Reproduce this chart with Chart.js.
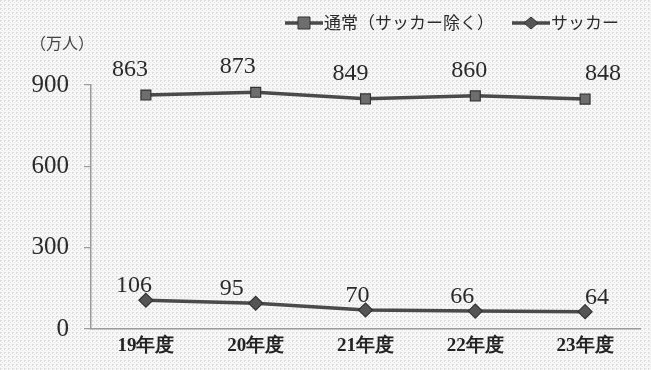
<!DOCTYPE html>
<html><head><meta charset="utf-8">
<script src="https://cdn.jsdelivr.net/npm/chart.js@4"></script>
<style>html,body{margin:0;padding:0;background:#f2f2f2;}#wrap{width:651px;height:370px;}</style>
</head><body><div id="wrap"><canvas id="c" width="651" height="370"></canvas></div>
<script>
const categories = ['19年度','20年度','21年度','22年度','23年度'];
const regular = [863, 873, 849, 860, 848];
const soccer = [106, 95, 70, 66, 64];
const yTicks = [0, 300, 600, 900];
const seriesNames = ['通常（サッカー除く）','サッカー'];
const unitLabel = '（万人）';

const serif = '"Liberation Serif","DejaVu Serif",serif';
const jp = '"Noto Sans CJK JP","Noto Sans",sans-serif';

// label placement tweaks (style, not data)
const labelStyle = {
  rise: [19, 8],
  shift: [[-16,-18,-15,-6,18],[-12,-24,-8,-13,12]]
};

function makePattern(ctx){
  const p = document.createElement('canvas'); p.width = 4; p.height = 4;
  const c = p.getContext('2d');
  c.fillStyle = '#f7f7f7'; c.fillRect(0,0,4,4);
  c.fillStyle = '#dedede'; c.fillRect(0,0,2,1); c.fillRect(0,1,1,1);
  c.fillStyle = '#e8e8e8'; c.fillRect(2,2,1,1);
  return ctx.createPattern(p,'repeat');
}

const bgPlugin = {
  id:'bg',
  beforeDraw(chart){
    const ctx = chart.ctx;
    ctx.save();
    ctx.fillStyle = makePattern(ctx);
    ctx.fillRect(0,0,chart.width,chart.height);
    ctx.restore();
  }
};

const labelPlugin = {
  id:'labels',
  afterDatasetsDraw(chart){
    const ctx = chart.ctx;
    ctx.save();
    ctx.font = '24px ' + serif;
    ctx.fillStyle = '#2a2a2a';
    ctx.textAlign = 'center';
    ctx.textBaseline = 'alphabetic';
    chart.data.datasets.forEach((ds, i) => {
      const meta = chart.getDatasetMeta(i);
      meta.data.forEach((pt, j) => {
        ctx.fillText(String(ds.data[j]), pt.x + labelStyle.shift[i][j], pt.y - labelStyle.rise[i]);
      });
    });
    // unit label
    ctx.font = '16px ' + jp;
    ctx.fillStyle = '#444';
    ctx.textAlign = 'left';
    ctx.textBaseline = 'middle';
    ctx.fillText(unitLabel, 30, 43);
    // legend
    const items = [
      {x:285, ds:chart.data.datasets[0]},
      {x:512, ds:chart.data.datasets[1]}
    ];
    const ly = 23;
    items.forEach(it => {
      const ds = it.ds;
      ctx.strokeStyle = ds.borderColor;
      ctx.lineWidth = 3.5;
      ctx.beginPath(); ctx.moveTo(it.x, ly); ctx.lineTo(it.x + 38, ly); ctx.stroke();
      const cx = it.x + 19;
      ctx.fillStyle = ds.pointBackgroundColor;
      ctx.strokeStyle = ds.pointBorderColor;
      ctx.lineWidth = 1;
      ctx.beginPath();
      if (ds.pointStyle === 'rect') {
        ctx.rect(cx-6, ly-6, 12, 12);
      } else {
        ctx.moveTo(cx, ly-6); ctx.lineTo(cx+7, ly); ctx.lineTo(cx, ly+6); ctx.lineTo(cx-7, ly); ctx.closePath();
      }
      ctx.fill(); ctx.stroke();
      ctx.font = '17px ' + jp;
      ctx.fillStyle = '#2a2a2a';
      ctx.textAlign = 'left';
      ctx.fillText(ds.label, it.x + 39, ly);
    });
    ctx.restore();
  }
};

new Chart(document.getElementById('c'), {
  type:'line',
  data:{
    labels: categories,
    datasets:[
      {label: seriesNames[0], data: regular, borderColor:'#4a4a4a', borderWidth:3.5,
       pointStyle:'rect', pointRadius:7, pointBackgroundColor:'#6e6e6e', pointBorderColor:'#333', pointBorderWidth:1.2, tension:0},
      {label: seriesNames[1], data: soccer, borderColor:'#4a4a4a', borderWidth:3.5,
       pointStyle:'rectRot', pointRadius:7, pointBackgroundColor:'#555', pointBorderColor:'#333', pointBorderWidth:1.2, tension:0}
    ]
  },
  options:{
    responsive:false, animation:false,
    layout:{padding:{left:0, right:11, top:85, bottom:0}},
    plugins:{legend:{display:false}, tooltip:{enabled:false}},
    scales:{
      x:{
        offset:true,
        grid:{display:false, offset:true, drawTicks:false},
        border:{display:true, color:'#9a9a9a', width:1.5},
        ticks:{font:{family:serif, size:19, weight:'bold'}, color:'#222', padding:6},
        afterFit(s){ s.height = 41; }
      },
      y:{
        min:0, max:900,
        afterBuildTicks(s){ s.ticks = yTicks.map(v=>({value:v})); },
        grid:{drawOnChartArea:false, drawTicks:true, tickLength:7, color:'#9a9a9a', lineWidth:1.2},
        border:{display:true, color:'#9a9a9a', width:1.5},
        ticks:{font:{family:serif, size:25}, color:'#2a2a2a', padding:15},
        afterFit(s){ s.width = 91; }
      }
    }
  },
  plugins:[bgPlugin, labelPlugin]
});
</script></body></html>
